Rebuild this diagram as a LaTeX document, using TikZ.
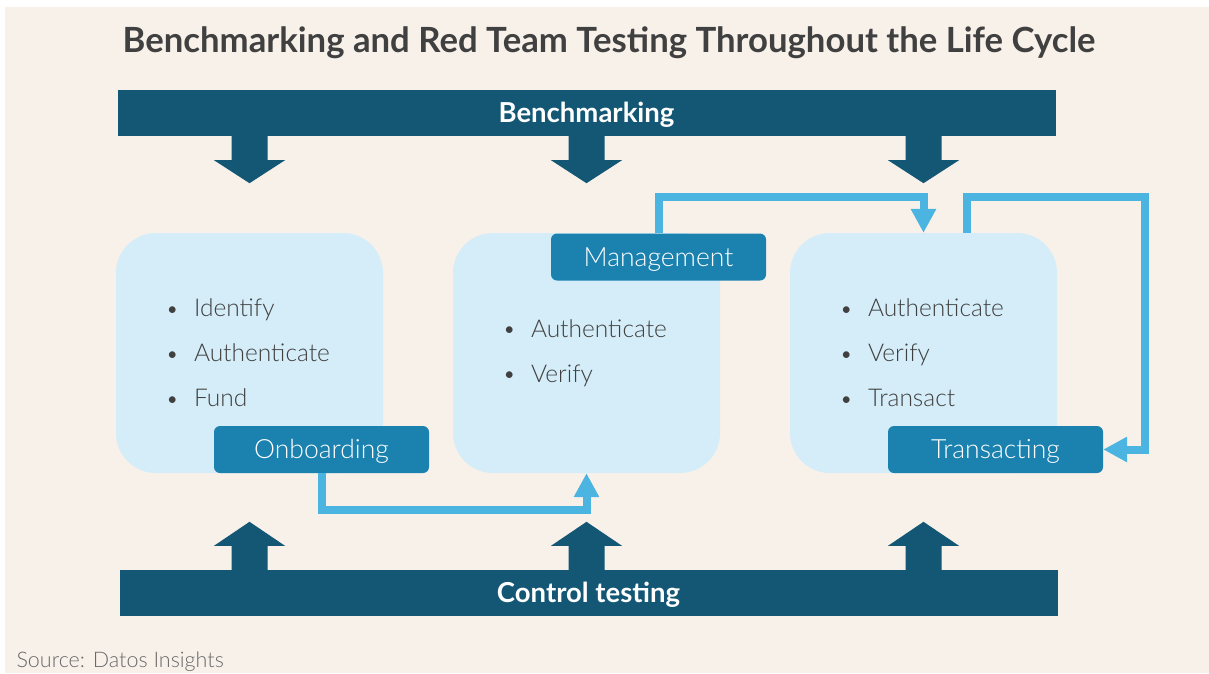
\documentclass[tikz,border=0pt]{standalone}
\usepackage{fontspec}
\setmainfont{Lato}
\newfontfamily\lightfont{Lato Light}
\usetikzlibrary{arrows.meta, positioning}

\definecolor{paper}{RGB}{248,241,234}
\definecolor{barBlue}{RGB}{19,87,117}
\definecolor{tabBlue}{RGB}{27,130,176}
\definecolor{boxBlue}{RGB}{212,237,248}
\definecolor{flowBlue}{RGB}{75,180,224}
\definecolor{ink}{RGB}{64,64,64}
\definecolor{sourceGray}{RGB}{105,105,105}

\tikzstyle{bar} = [rectangle, minimum width=938pt, minimum height=46pt, inner sep=0pt, fill=barBlue, text=white, text height=19.5pt, text depth=0pt, font=\fontsize{27.5}{30}\selectfont\bfseries]
\tikzstyle{stageBox} = [rectangle, rounded corners=40pt, minimum width=267pt, minimum height=240pt, inner sep=0pt, fill=boxBlue]
\tikzstyle{tab} = [rectangle, rounded corners=6pt, minimum width=215pt, minimum height=47pt, inner sep=0pt, fill=tabBlue, text=white, text height=18pt, text depth=0pt, font=\fontsize{26.5}{28}\lightfont]
\tikzstyle{stepList} = [anchor=west, align=left, inner sep=0pt, text=ink, font=\fontsize{24.5}{45}\lightfont]
\tikzstyle{flow} = [line width=8pt, draw=flowBlue, -{Triangle[width=24pt,length=24pt]}]
\tikzstyle{blockArrow} = [fill=barBlue]

\newcommand{\stepItem}[1]{\makebox[27pt][l]{\raisebox{1.5pt}{\rmfamily\fontsize{18}{18}\selectfont\textbullet}}#1}

\begin{document}
\begin{tikzpicture}[x=1pt, y=-1pt, node distance=337pt]

\useasboundingbox (0,0) rectangle (1209,673);
\fill [white] (0,0) rectangle (1209,673);
\fill [paper] (5,7) rectangle (1209,673);

\node (title) [anchor=base, text=ink, font=\fontsize{34.7}{40}\selectfont\bfseries] at (609,52.5) {Benchmarking and Red Team Testing Throughout the Life Cycle};

% the three stages
\node (onboardBox) [stageBox] at (249.5,353) {};
\node (manageBox) [stageBox, right of=onboardBox] {};
\node (transactBox) [stageBox, right of=manageBox] {};

\node (bench) [bar, above of=manageBox, node distance=240pt] {Benchmarking};
\node (control) [bar, below of=manageBox, node distance=240pt, xshift=2pt] {Control testing};

\node (onboardTab) [tab, below of=onboardBox, node distance=96.5pt, xshift=72pt] {Onboarding};
\node (manageTab) [tab, above of=manageBox, node distance=96pt, xshift=72pt] {Management};
\node (transactTab) [tab, below of=transactBox, node distance=96.5pt, xshift=72pt] {Transacting};

\node (onboardSteps) [stepList] at ([xshift=51pt]onboardBox.west) {\stepItem{Identify}\\ \stepItem{Authenticate}\\ \stepItem{Fund}};
\node (manageSteps) [stepList] at ([xshift=51pt]manageBox.west) {\stepItem{Authenticate}\\ \stepItem{Verify}};
\node (transactSteps) [stepList] at ([xshift=51pt]transactBox.west) {\stepItem{Authenticate}\\ \stepItem{Verify}\\ \stepItem{Transact}};

% block arrows from the bars
\foreach \b in {onboardBox,manageBox,transactBox}{
  \fill [blockArrow] (\b.north |- bench.south) ++(-18,0) -- ++(0,24) -- ++(-17.5,0) -- ++(35.5,23) -- ++(35.5,-23) -- ++(-17.5,0) -- ++(0,-24) -- cycle;
  \fill [blockArrow] (\b.south |- control.north) ++(-18,0) -- ++(0,-24) -- ++(-17.5,0) -- ++(35.5,-24) -- ++(35.5,24) -- ++(-17.5,0) -- ++(0,24) -- cycle;
}

\coordinate (loopCorner) at (1144.5,196.5);
\draw [flow] (onboardTab.south) -- ++(0,37) -| (manageBox.south);
\draw [flow] (manageTab.north) -- ++(0,-36.5) -| (transactBox.north);
\draw [flow] ([xshift=43.5pt]transactBox.north) |- (loopCorner) |- (transactTab.east);

\node (source) [anchor=base west, text=sourceGray, font=\fontsize{21.5}{24}\lightfont] at (13,667) {Source: Datos Insights};
\end{tikzpicture}
\end{document}
